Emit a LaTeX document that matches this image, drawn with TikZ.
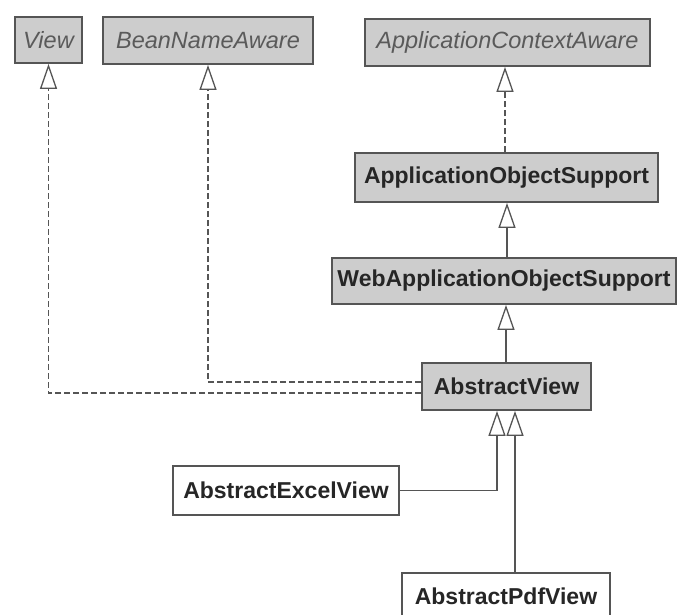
\documentclass[tikz,border=0pt]{standalone}
\usepackage{fontspec}
\setmainfont{Liberation Sans}
\usetikzlibrary{arrows.meta}
\definecolor{boxgray}{HTML}{CDCDCD}
\definecolor{edge}{HTML}{555555}
\definecolor{itext}{HTML}{5A5A5A}
\tikzset{
  box/.style={draw=edge, line width=1.8pt, inner sep=0pt, font=\fontsize{23}{26}\selectfont},
  iface/.style={box, fill=boxgray, text=itext, font=\fontsize{23.5}{26}\selectfont\itshape},
  absbox/.style={box, fill=boxgray, text=black!85, font=\fontsize{23}{26}\selectfont\bfseries},
  conbox/.style={box, fill=white, text=black!85, font=\fontsize{23}{26}\selectfont\bfseries},
  inherit/.style={draw=edge, line width=1.3pt, -{Triangle[open, length=25pt, width=17pt, fill=white]}},
  realize/.style={inherit, dash pattern=on 6pt off 3pt},
}
\begin{document}
\begin{tikzpicture}[x=1pt, y=-1pt]
\useasboundingbox (0,0) rectangle (678,615);
\clip (0,0) rectangle (678,615);
\fill[white] (0,0) rectangle (678,615);
\node[iface, minimum width=67pt, minimum height=46pt] (view) at (48.5,40) {View};
\node[iface, minimum width=210pt, minimum height=47pt] (bean) at (208,40.5) {BeanNameAware};
\node[iface, minimum width=285pt, minimum height=47pt] (aca) at (507.5,42.5) {ApplicationContextAware};
\node[absbox, minimum width=303pt, minimum height=49pt] (aos) at (506.5,177.5) {ApplicationObjectSupport};
\node[absbox, minimum width=344pt, minimum height=46pt] (waos) at (504,281) {WebApplicationObjectSupport};
\node[absbox, minimum width=169pt, minimum height=47pt] (av) at (506.5,386.5) {AbstractView};
\node[conbox, minimum width=226pt, minimum height=49pt] (aev) at (286,490.5) {AbstractExcelView};
\node[conbox, minimum width=208pt, minimum height=47pt, anchor=north] (apv) at (506,572) {AbstractPdfView};

\draw[realize] (av.west |- 0,393) -| (view.south);
\draw[realize] (av.west |- 0,382) -| (bean.south);
\draw[realize] (aos.north -| 505,0) -- (aca.south -| 505,0);
\draw[inherit] (waos.north -| 507,0) -- (aos.south -| 507,0);
\draw[inherit] (av.north -| 506,0) -- (waos.south -| 506,0);
\draw[inherit] (aev.east) -| (av.south -| 497,0);
\draw[inherit] (apv.north -| 515,0) -- (av.south -| 515,0);
\end{tikzpicture}
\end{document}
